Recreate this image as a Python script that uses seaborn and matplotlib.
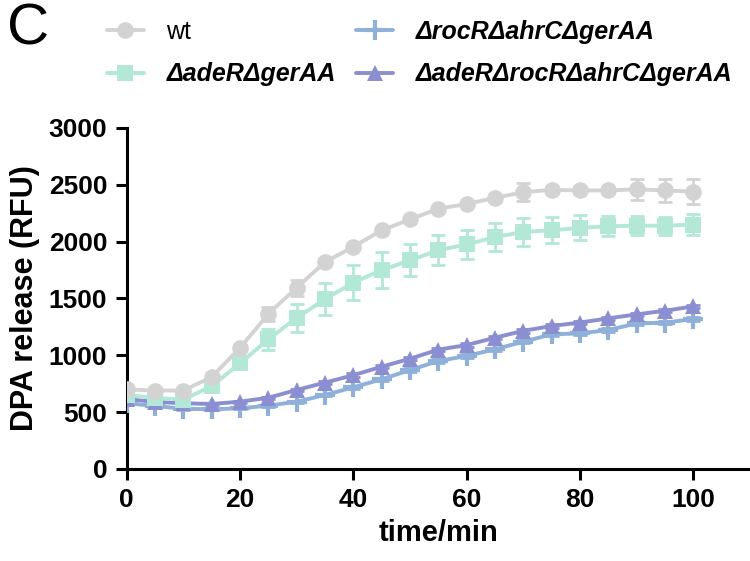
import numpy as np
import pandas as pd
import matplotlib
matplotlib.use('Agg')
import matplotlib.pyplot as plt
import seaborn as sns

# ── Data ────────────────────────────────────────────────────────────────────
time_min = [0, 5, 10, 15, 20, 25, 30, 35, 40, 45, 50,
            55, 60, 65, 70, 75, 80, 85, 90, 95, 100]

wt_mean = [700, 690, 690, 810, 1065, 1365, 1595, 1820, 1955, 2100, 2195,
           2290, 2330, 2385, 2435, 2455, 2450, 2450, 2460, 2450, 2440]
wt_sd = [10, 10, 10, 15, 20, 60, 70, 30, 20, 20, 20,
         20, 20, 25, 80, 25, 20, 20, 90, 100, 110]

ade_mean = [650, 625, 610, 730, 930, 1140, 1330, 1495, 1640, 1750, 1835,
            1925, 1975, 2040, 2085, 2100, 2120, 2135, 2140, 2140, 2150]
ade_sd = [15, 15, 15, 20, 35, 95, 125, 140, 150, 155, 140,
          130, 130, 120, 125, 115, 110, 90, 85, 80, 95]

roc_mean = [578, 554, 530, 525, 534, 557, 592, 651, 719, 789, 870,
            950, 994, 1053, 1120, 1184, 1193, 1222, 1281, 1287, 1319]
roc_sd = [10, 10, 10, 10, 10, 10, 10, 10, 15, 15, 15,
          15, 15, 15, 15, 15, 15, 15, 15, 15, 15]

aderoc_mean = [615, 590, 578, 572, 592, 627, 695, 760, 825, 900, 970,
               1050, 1090, 1155, 1215, 1258, 1288, 1325, 1360, 1392, 1430]
aderoc_sd = [10, 10, 10, 10, 10, 10, 10, 10, 15, 15, 15,
             15, 15, 15, 15, 15, 15, 15, 15, 15, 15]

strains = ['wt', 'ΔadeRΔgerAA', 'ΔrocRΔahrCΔgerAA', 'ΔadeRΔrocRΔahrCΔgerAA']

# ── Style ─────────────────────────────────────────────────────────────────────
sns.set_theme(style='ticks')
plt.rcParams['font.family'] = ['Liberation Sans', 'DejaVu Sans']
plt.rcParams['text.color'] = 'black'
plt.rcParams['axes.labelcolor'] = 'black'
plt.rcParams['xtick.color'] = 'black'
plt.rcParams['ytick.color'] = 'black'

GREY   = '#d3d3d3'
MINT   = '#b2e8d5'
BLUE   = '#8eb0d9'
PURPLE = '#8b8fd2'

df = pd.concat([
    pd.DataFrame({'time': time_min, 'rfu': m, 'sd': s, 'strain': name})
    for name, m, s in zip(strains,
                          [wt_mean, ade_mean, roc_mean, aderoc_mean],
                          [wt_sd, ade_sd, roc_sd, aderoc_sd])
])

palette = dict(zip(strains, [GREY, MINT, BLUE, PURPLE]))
markers = dict(zip(strains, ['o', 's', '+', '^']))
msizes  = dict(zip(strains, [12, 11, 15, 12]))

fig = plt.figure(figsize=(7.5, 5.61), dpi=100)
ax = fig.add_axes([0.169, 0.164, 0.831, 0.608])

draw_order = ['ΔrocRΔahrCΔgerAA', 'ΔadeRΔrocRΔahrCΔgerAA', 'ΔadeRΔgerAA', 'wt']
handles = {}
for name in draw_order:
    sub = df[df['strain'] == name]
    ax.errorbar(sub['time'], sub['rfu'], yerr=sub['sd'], fmt='none',
                ecolor=palette[name], elinewidth=2, capsize=5, capthick=2,
                zorder=2)
    sns.lineplot(data=sub, x='time', y='rfu', ax=ax, color=palette[name],
                 marker=markers[name], markersize=msizes[name],
                 markeredgecolor=palette[name],
                 markeredgewidth=3 if name == 'ΔrocRΔahrCΔgerAA' else 0,
                 linewidth=2.8, label=name, legend=False, zorder=3)
    handles[name] = ax.lines[-1]

# ── Axes ──────────────────────────────────────────────────────────────────────
ax.set_xlim(0, 110)
ax.set_ylim(0, 3000)
ax.set_xticks([0, 20, 40, 60, 80, 100])
ax.set_yticks([0, 500, 1000, 1500, 2000, 2500, 3000])
for side in ['top', 'right']:
    ax.spines[side].set_visible(False)
for side in ['left', 'bottom']:
    ax.spines[side].set_linewidth(2.2)
    ax.spines[side].set_color('black')
ax.tick_params(width=2.2, length=8, color='black', labelsize=19, pad=6)
for lbl in ax.get_xticklabels() + ax.get_yticklabels():
    lbl.set_fontweight('bold')
ax.set_xlabel('time/min', fontsize=21, fontweight='bold', labelpad=5)
ax.set_ylabel('DPA release (RFU)', fontsize=22, fontweight='bold', labelpad=6)

# ── Legend ────────────────────────────────────────────────────────────────────
leg = fig.legend([handles[n] for n in strains], strains, ncol=2,
                 loc='upper left', bbox_to_anchor=(0.112, 1.005),
                 frameon=False, fontsize=18, handlelength=1.5,
                 columnspacing=0.8, handletextpad=0.9, labelspacing=0.75)
for i, txt in enumerate(leg.get_texts()):
    if i == 0:
        txt.set_fontweight('normal')
    else:
        txt.set_fontweight('bold')
        txt.set_fontstyle('italic')

fig.text(0.01, 0.995, 'C', fontsize=42, va='top', ha='left')

fig.savefig('out.png', dpi=100)
